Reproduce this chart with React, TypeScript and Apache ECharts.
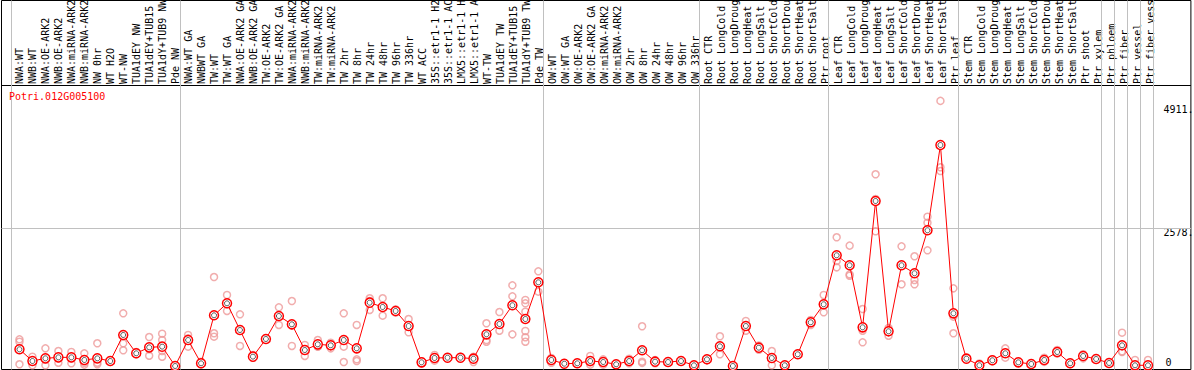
import React, { useEffect, useRef } from 'react';
import * as echarts from 'echarts';

const geneId = 'Potri.012G005100';

const categories = [
  'NWA:WT', 'NWB:WT', 'NWA:OE-ARK2', 'NWB:OE-ARK2', 'NWA:miRNA-ARK2', 'NWB:miRNA-ARK2', 'NW 0hr', 'WT H2O', 'WT-NW',
  'TUA1dEY NW', 'TUA1dEY+TUB15 NW', 'TUA1dY+TUB9 NW', 'Pde NW',
  'NWA:WT GA', 'NWBWT GA', 'TW:WT', 'TW:WT GA', 'NWA:OE-ARK2 GA', 'NWB:OE-ARK2 GA', 'TW:OE-ARK2', 'TW:OE-ARK2 GA',
  'NWA:miRNA-ARK2', 'NWB:miRNA-ARK2', 'TW:miRNA-ARK2', 'TW:miRNA-ARK2', 'TW 2hr', 'TW 8hr', 'TW 24hr', 'TW 48hr',
  'TW 96hr', 'TW 336hr', 'WT ACC', '35S::etr1-1 H2O', '35S::etr1-1 ACC', 'LMX5::etr1-1 H2O', 'LMX5::etr1-1 ACC',
  'WT-TW', 'TUA1dEY TW', 'TUA1dEY+TUB15 TW', 'TUA1dY+TUB9 TW', 'Pde TW',
  'OW:WT', 'OW:WT GA', 'OW:OE-ARK2', 'OW:OE-ARK2 GA', 'OW:miRNA-ARK2', 'OW:miRNA-ARK2', 'OW 2hr', 'OW 8hr',
  'OW 24hr', 'OW 48hr', 'OW 96hr', 'OW 336hr',
  'Root CTR', 'Root LongCold', 'Root LongDrought', 'Root LongHeat', 'Root LongSalt', 'Root ShortCold',
  'Root ShortDrought', 'Root ShortHeat', 'Root ShortSalt', 'Ptr root',
  'Leaf CTR', 'Leaf LongCold', 'Leaf LongDrought', 'Leaf LongHeat', 'Leaf LongSalt', 'Leaf ShortCold',
  'Leaf ShortDrought', 'Leaf ShortHeat', 'Leaf ShortSalt', 'Ptr leaf',
  'Stem CTR', 'Stem LongCold', 'Stem LongDrought', 'Stem LongHeat', 'Stem LongSalt', 'Stem ShortCold',
  'Stem ShortDrought', 'Stem ShortHeat', 'Stem ShortSalt', 'Ptr shoot', 'Ptr xylem',
  'Ptr phloem', 'Ptr fiber', 'Ptr vessel', 'Ptr fiber vessel',
];

const means = [
  369, 155, 204, 222, 222, 174, 204, 155, 631, 296, 405, 418, 64,
  539, 113, 991, 1210, 722, 235, 558, 978, 826, 356, 460, 442, 539, 387, 1222, 1143, 1070, 795, 131, 210, 216, 216,
  198, 643, 832, 1174, 923, 1594,
  174, 106, 113, 155, 137, 95, 155, 351, 143, 137, 155, 77,
  186, 424, 64, 795, 399, 210, 77, 278, 863, 1192,
  2088, 1905, 771, 3081, 698, 1905, 1759, 2545, 4104, 1027,
  198, 77, 168, 296, 131, 101, 174, 320, 113, 247, 192,
  119, 442, 77, 77,
];

const replicates: number[][] = [
  [552, 508, 95], [234, 155, 77], [387, 186, 77], [338, 204, 124], [320, 204, 113], [296, 124, 88],
  [479, 124, 95], [140, 155, 170], [1027, 479, 351], [320, 290, 278], [594, 370, 252], [655, 539, 338, 234],
  [64, 55, 60],
  [631, 570, 418], [143, 100, 95], [1691, 662, 600], [1362, 1200, 1070], [1009, 722, 430], [265, 223, 215],
  [570, 552, 552], [1137, 978, 814], [1252, 800, 430], [448, 370, 247], [539, 420, 418], [490, 450, 387],
  [1027, 418, 137], [814, 186, 155], [1302, 1252, 1088], [1302, 1143, 984], [1100, 1070, 1039], [923, 795, 680],
  [150, 130, 110], [265, 210, 161], [225, 216, 207], [234, 216, 198], [234, 198, 137], [845, 539, 508],
  [1051, 832, 709], [1539, 1338, 643], [1271, 1210, 1057, 704, 589, 508], [1795, 1594, 1423],
  [210, 174, 124], [110, 106, 102], [120, 113, 106], [247, 130, 88], [186, 137, 88], [100, 95, 90],
  [198, 155, 113], [790, 143, 120], [174, 143, 113], [143, 137, 130], [160, 155, 150], [80, 77, 74],
  [190, 186, 182], [607, 424, 278], [64, 60, 68], [887, 790, 709], [440, 399, 360], [338, 210, 77],
  [80, 77, 74], [285, 278, 271], [905, 863, 814], [1362, 1192, 1046],
  [2417, 1984, 1868], [2265, 1740, 1715], [1106, 709, 497], [3569, 3117, 2527], [759, 718, 618],
  [2252, 1905, 1558], [2070, 1636, 1558], [2794, 2684, 2179], [4911, 3697, 3629], [1484, 966, 662],
  [205, 198, 192], [110, 77, 60], [186, 168, 150], [387, 296, 216], [143, 131, 120], [113, 101, 90],
  [216, 174, 140], [356, 320, 290], [124, 113, 100], [278, 247, 204], [198, 192, 186],
  [119, 119], [673, 332, 320], [174, 40, 20], [174, 40, 20],
];

// group separators come after these category indices
const separatorsAfter = [-1, 12, 40, 52, 62, 72, 83, 84, 85, 86, 87];
const yTickLabels = [0, 2578, 4911];
const midGridValue = 2578;

const FONT = 'DejaVu Sans Mono';

export default function App() {
  const ref = useRef<HTMLDivElement>(null);
  useEffect(() => {
    document.body.style.margin = '0';
    const chart = echarts.init(ref.current!, null, { renderer: 'svg' });
    const yMax = 6746.6;
    const plotTop = 5192.5;
    const xMin = -1.3846;
    const xMax = 90.3077;
    const sepOffset = 5 / 13;

    const repData: number[][] = [];
    replicates.forEach((r, i) => r.forEach((v) => repData.push([i, v])));
    const meanData = means.map((v, i) => [i, v]);

    const option: any = {
      animation: false,
      title: {
        text: geneId,
        left: 9,
        top: 91,
        padding: 0,
        textStyle: { color: '#ff0000', fontSize: 10, fontFamily: FONT, fontWeight: 'normal' },
      },
      grid: [
        { left: 1.5, top: 0.5, width: 1192, height: 369, show: true, borderColor: '#000', borderWidth: 1, backgroundColor: 'transparent' },
        { left: 13, top: 85, width: 1144, height: 1 },
      ],
      xAxis: [
        { type: 'value', gridIndex: 0, min: xMin, max: xMax, show: false },
        {
          type: 'category',
          gridIndex: 1,
          position: 'top',
          data: categories,
          axisLine: { show: false },
          axisTick: { show: false },
          splitLine: { show: false },
          axisLabel: { interval: 0, rotate: 90, margin: 2, fontSize: 10, fontFamily: FONT, color: '#000' },
        },
      ],
      yAxis: [
        {
          type: 'value',
          gridIndex: 0,
          min: 0,
          max: yMax,
          position: 'left',
          offset: -1162,
          axisLine: { show: false },
          axisTick: { show: false },
          splitLine: { show: false },
          axisLabel: {
            inside: true,
            margin: 0,
            customValues: yTickLabels,
            fontSize: 10,
            fontFamily: FONT,
            color: '#000',
            formatter: (v: number) => (v === 0 ? '{z|0}' : v === 4911 ? '{t|4911.}' : '{m|' + v + '.}'),
            rich: {
              z: { fontSize: 10, fontFamily: FONT, color: '#000', padding: [0, 0, 15, 2] },
              t: { fontSize: 10, fontFamily: FONT, color: '#000', padding: [18, 0, 0, 0] },
              m: { fontSize: 10, fontFamily: FONT, color: '#000', padding: [8, 0, 0, 0] },
            },
          },
        },
        { type: 'value', gridIndex: 1, show: false },
      ],
      series: [
        {
          type: 'scatter',
          name: 'replicates',
          xAxisIndex: 0,
          yAxisIndex: 0,
          data: repData,
          symbol: 'circle',
          symbolSize: 7,
          z: 2,
          itemStyle: { color: 'transparent', borderColor: '#ee9898', borderWidth: 1.5 },
          markLine: {
            silent: true,
            symbol: 'none',
            label: { show: false },
            z: 1,
            data: [
              { yAxis: midGridValue, lineStyle: { color: '#c0c0c0', width: 1, type: 'solid' } },
              { yAxis: plotTop, lineStyle: { color: '#000', width: 1, type: 'solid' } },
              ...separatorsAfter.map((k) => ({ xAxis: k + sepOffset, lineStyle: { color: '#c0c0c0', width: 1, type: 'solid' } })),
            ],
          },
        },
        {
          type: 'line',
          name: 'mean',
          xAxisIndex: 0,
          yAxisIndex: 0,
          data: meanData,
          z: 3,
          symbol: 'circle',
          symbolSize: 9,
          showAllSymbol: true,
          lineStyle: { color: '#ff0000', width: 1 },
          itemStyle: { color: '#fff', borderColor: '#ff0000', borderWidth: 1.5 },
        },
        {
          type: 'scatter',
          name: 'mean-inner',
          xAxisIndex: 0,
          yAxisIndex: 0,
          data: meanData,
          z: 4,
          symbol: 'circle',
          symbolSize: 5,
          itemStyle: { color: 'transparent', borderColor: '#000', borderWidth: 0.8 },
        },
      ],
    };
    chart.setOption(option);
    return () => chart.dispose();
  }, []);
  return <div ref={ref} style={{ position: 'absolute', left: 0, top: 0, width: 1194, height: 370 }} />;
}
